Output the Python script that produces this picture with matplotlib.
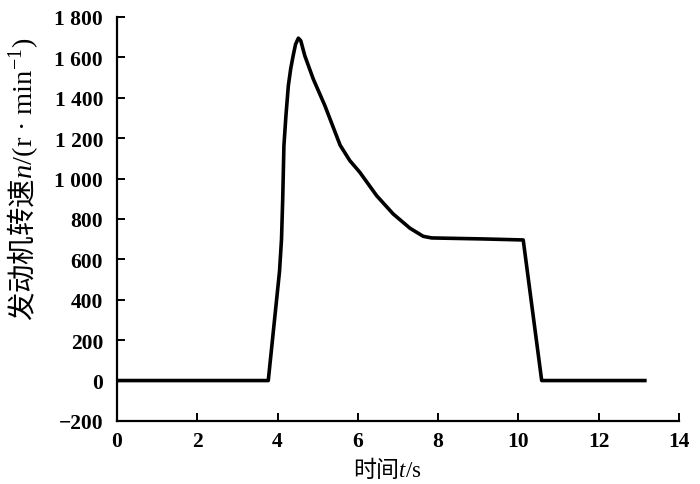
import numpy as np
import matplotlib
matplotlib.use("Agg")
import matplotlib.pyplot as plt
from matplotlib.ticker import FuncFormatter

plt.rcParams['font.family'] = ['Liberation Serif', 'Noto Sans CJK SC']
plt.rcParams['mathtext.fontset'] = 'custom'
plt.rcParams['mathtext.rm'] = 'Liberation Serif'
plt.rcParams['mathtext.it'] = 'Liberation Serif:italic'
plt.rcParams['mathtext.bf'] = 'Liberation Serif:bold'
plt.rcParams['mathtext.sf'] = 'Noto Sans CJK SC'

# engine speed curve
t = [0.0, 3.77, 4.05, 4.10, 4.13, 4.16, 4.21, 4.27, 4.33, 4.39, 4.45, 4.52,
     4.58, 4.68, 4.89, 5.18, 5.56, 5.80, 6.05, 6.47, 6.88, 7.30, 7.63, 7.84,
     9.13, 10.12, 10.58, 13.15]
n = [0, 0, 540, 700, 900, 1163, 1311, 1460, 1545, 1608, 1665, 1695,
     1682, 1608, 1493, 1361, 1165, 1089, 1031, 915, 825, 754, 714, 706,
     701, 696, 0, 0]

xticks = [0, 2, 4, 6, 8, 10, 12, 14]
yticks = [-200, 0, 200, 400, 600, 800, 1000, 1200, 1400, 1600, 1800]


def fmt(v, pos):
    v = int(v)
    s = f"{abs(v):,}".replace(",", " ")
    return ("\u2212" if v < 0 else "") + s


fig = plt.figure(figsize=(7, 4.85), dpi=100)
ax = fig.add_axes([0.167, 0.130, 0.803, 0.833])
ax.plot(t, n, color='black', lw=2.6, solid_joinstyle='round')

ax.set_xlim(0, 14)
ax.set_ylim(-200, 1800)
ax.set_xticks(xticks)
ax.set_yticks(yticks)
ax.yaxis.set_major_formatter(FuncFormatter(fmt))
ax.spines['top'].set_visible(False)
ax.spines['right'].set_visible(False)
for s in ['left', 'bottom']:
    ax.spines[s].set_linewidth(1.6)
ax.tick_params(direction='in', length=6, width=1.4, labelsize=15.5)
ax.tick_params(axis='y', pad=10)
ax.tick_params(axis='x', pad=7)
for lab in ax.get_xticklabels() + ax.get_yticklabels():
    lab.set_fontweight('bold')

ax.set_xlabel(r'$\mathsf{时间}t\mathrm{/s}$', fontsize=16.5)
ax.xaxis.set_label_coords(0.482, -0.085)
ax.set_ylabel(r'$\mathsf{发动机转速}n\mathrm{/(r\ ·\ min^{-1})}$',
              fontsize=20.5)
ax.yaxis.set_label_coords(-0.137, 0.60)

fig.savefig('out.png', dpi=100)
